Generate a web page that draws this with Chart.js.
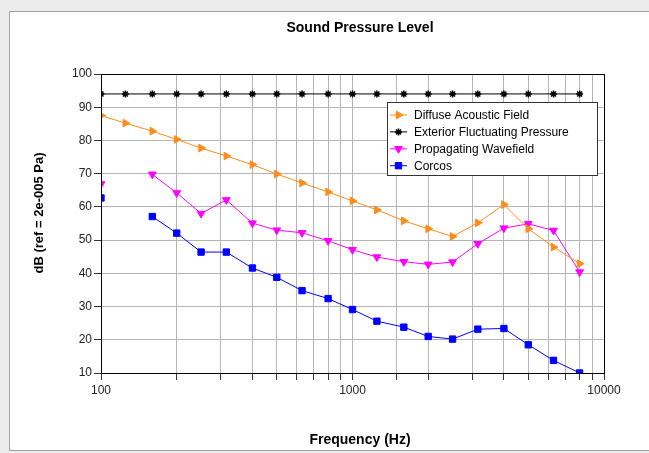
<!DOCTYPE html>
<html>
<head>
<meta charset="utf-8">
<script src="https://cdn.jsdelivr.net/npm/chart.js@4.4.1/dist/chart.umd.min.js"></script>
<style>
  html, body { margin: 0; padding: 0; }
  body { width: 649px; height: 453px; background: #ececec; position: relative; overflow: hidden; }
  #panel { position: absolute; left: 9px; top: 11px; width: 700px; height: 438px; background: #fff; border: 1px solid #a0a0a0; }
  #chart { position: absolute; left: 0; top: 0; }
</style>
</head>
<body>
<div id="panel"></div>
<canvas id="chart" width="649" height="453"></canvas>
<script>
// 1/3 octave band centres (Hz)
const freqs = [100, 125, 160, 200, 250, 315, 400, 500, 630, 800, 1000, 1250, 1600, 2000, 2500, 3150, 4000, 5000, 6300, 8000];

const diffuse = [87.5, 85.2, 82.8, 80.3, 77.7, 75.3, 72.7, 69.9, 67.2, 64.5, 61.8, 59.1, 55.8, 53.4, 51.1, 55.2, 60.7, 53.4, 47.9, 42.9];
const exterior = [94, 94, 94, 94, 94, 94, 94, 94, 94, 94, 94, 94, 94, 94, 94, 94, 94, 94, 94, 94];
const propagating = [66.9, null, 69.8, 64.2, 58.0, 62.1, 55.1, 53.0, 52.2, 49.8, 47.1, 44.9, 43.5, 42.7, 43.4, 48.9, 53.6, 54.9, 52.9, 40.4];
const corcos = [62.7, null, 57.1, 52.1, 46.4, 46.4, 41.6, 38.8, 34.8, 32.4, 29.1, 25.6, 23.8, 21.0, 20.2, 23.2, 23.4, 18.5, 13.8, 10.0];

const seriesNames = ['Diffuse Acoustic Field', 'Exterior Fluctuating Pressure', 'Propagating Wavefield', 'Corcos'];
const xLabelTicks = [100, 1000, 10000];
const yMin = 10, yMax = 100, yStep = 10;

const chartTitle = 'Sound Pressure Level';
const xTitle = 'Frequency (Hz)';
const yTitle = 'dB (ref = 2e-005 Pa)';

const FONT = '"Liberation Sans", Arial, sans-serif';

function toPoints(values) {
  return freqs.map((f, i) => ({ x: f, y: values[i] }));
}

function makeDataset(label, values, color, style, rotation, radius, pointBorder) {
  return {
    label: label,
    data: toPoints(values),
    borderColor: color,
    backgroundColor: color,
    borderWidth: 1,
    pointStyle: style,
    rotation: rotation,
    pointRadius: radius,
    pointBorderWidth: pointBorder,
    pointBackgroundColor: color,
    pointBorderColor: color,
    tension: 0,
    spanGaps: false
  };
}

// titles, frame and boxed legend
const decorations = {
  id: 'decorations',
  afterDatasetsDraw(chart) {
    const ctx = chart.ctx;
    const area = chart.chartArea;
    ctx.save();
    ctx.strokeStyle = '#000';
    ctx.lineWidth = 1;
    ctx.strokeRect(Math.round(area.left) + 0.5, Math.round(area.top) + 0.5,
      Math.round(area.right - area.left), Math.round(area.bottom - area.top));

    // legend
    const lx = 387.5, ly = 102.5, lw = 210, lh = 73;
    ctx.fillStyle = '#fff';
    ctx.fillRect(lx, ly, lw, lh);
    ctx.strokeStyle = '#333';
    ctx.strokeRect(lx, ly, lw, lh);
    ctx.font = '12px ' + FONT;
    ctx.textBaseline = 'middle';
    ctx.textAlign = 'left';
    chart.data.datasets.forEach((ds, i) => {
      const y = 115 + i * 16.9;
      ctx.strokeStyle = ds.borderColor;
      ctx.lineWidth = 1;
      ctx.beginPath();
      ctx.moveTo(390, y);
      ctx.lineTo(407, y);
      ctx.stroke();
      ctx.fillStyle = ds.pointBackgroundColor;
      ctx.strokeStyle = ds.pointBorderColor;
      ctx.lineWidth = ds.pointBorderWidth;
      Chart.helpers.drawPoint(ctx, {
        pointStyle: ds.pointStyle,
        rotation: ds.rotation,
        radius: ds.pointRadius,
        borderWidth: ds.pointBorderWidth
      }, 398.5, y);
      ctx.fillStyle = '#000';
      ctx.fillText(ds.label, 414, y + 1);
    });

    // titles
    ctx.fillStyle = '#000';
    ctx.textAlign = 'center';
    ctx.font = 'bold 14px ' + FONT;
    ctx.fillText(chartTitle, 360, 28);
    ctx.fillText(xTitle, 360, 440);
    ctx.font = 'bold 13px ' + FONT;
    ctx.translate(39, 213);
    ctx.rotate(-Math.PI / 2);
    ctx.fillText(yTitle, 0, 0);
    ctx.restore();
  }
};

const ctx = document.getElementById('chart').getContext('2d');

new Chart(ctx, {
  type: 'line',
  data: {
    datasets: [
      makeDataset(seriesNames[0], diffuse, '#ff8c1a', 'triangle', 90, 4.5, 1),
      makeDataset(seriesNames[1], exterior, '#000000', 'star', 0, 3.5, 1.5),
      makeDataset(seriesNames[2], propagating, '#ff00ff', 'triangle', 180, 4.5, 1),
      makeDataset(seriesNames[3], corcos, '#0000ff', 'rect', 0, 4.5, 1)
    ]
  },
  options: {
    responsive: false,
    animation: false,
    layout: { padding: { left: 0, top: 74, right: 45, bottom: 0 } },
    plugins: {
      legend: { display: false },
      title: { display: false },
      tooltip: { enabled: false }
    },
    scales: {
      x: {
        type: 'logarithmic',
        min: 100,
        max: 10000,
        afterFit: (scale) => { scale.height = 80; },
        border: { color: '#000', width: 1 },
        grid: { color: '#b4b4b4', tickColor: '#333', tickLength: 7, lineWidth: 1 },
        ticks: {
          autoSkip: false,
          maxRotation: 0,
          padding: 3,
          color: '#222',
          font: { family: FONT, size: 12 },
          callback: function(value) {
            return xLabelTicks.includes(Math.round(value)) ? String(Math.round(value)) : '';
          }
        }
      },
      y: {
        min: yMin,
        max: yMax,
        afterFit: (scale) => { scale.width = 101; },
        border: { color: '#000', width: 1 },
        grid: { color: '#b4b4b4', tickColor: '#333', tickLength: 7, lineWidth: 1 },
        ticks: {
          stepSize: yStep,
          padding: 2,
          color: '#222',
          font: { family: FONT, size: 12 }
        }
      }
    }
  },
  plugins: [decorations]
});
</script>
</body>
</html>
